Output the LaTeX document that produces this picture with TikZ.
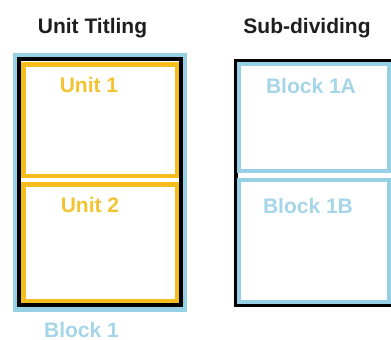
\documentclass[tikz,border=0pt]{standalone}
\usepackage{fontspec}
\setmainfont{Liberation Sans}
\definecolor{skyline}{RGB}{150,208,228}
\definecolor{skytext}{RGB}{165,213,232}
\definecolor{unitgold}{RGB}{246,190,28}
\definecolor{unittext}{RGB}{242,196,52}
\definecolor{titlegray}{RGB}{30,30,30}
\tikzset{
  lbl/.style={anchor=base,inner sep=0pt,font=\fontsize{21}{25}\selectfont\bfseries},
  unitbox/.style={draw=unitgold,line width=4.5pt,fill=white},
  subbox/.style={draw=skyline,line width=4pt,fill=white}
}
\begin{document}
\begin{tikzpicture}[x=1pt,y=-1pt]
      \useasboundingbox (0,0) rectangle (391,340);
      \node[lbl,titlegray] (titleA) at (92.5,33) {Unit Titling};
      \node[lbl,titlegray] (titleB) at (307,33) {Sub-dividing};
      % left: block with units
      \fill[skyline] (13,53) rectangle (187,312);
      \draw[line width=4pt,fill=white] (19,59) rectangle (181,305);
      \draw[unitbox] (23.25,64.25) rectangle (176.75,175.75);
      \draw[unitbox] (23.25,184.25) rectangle (176.75,300.75);
      \node[lbl,unittext] (unitA) at (89,92) {Unit 1};
      \node[lbl,unittext] (unitB) at (90,212) {Unit 2};
      \node[lbl,skytext] (blockA) at (81.5,337) {Block 1};
      % right: sub-divided block
      \draw[line width=3.5pt,fill=white] (235.75,60.75) rectangle (396,305.25);
      \draw[subbox] (239,64) rectangle (389,171);
      \draw[subbox] (239,180) rectangle (389,302);
      \node[lbl,skytext] (subA) at (311,93) {Block 1A};
      \node[lbl,skytext] (subB) at (308,213) {Block 1B};
\end{tikzpicture}
\end{document}
